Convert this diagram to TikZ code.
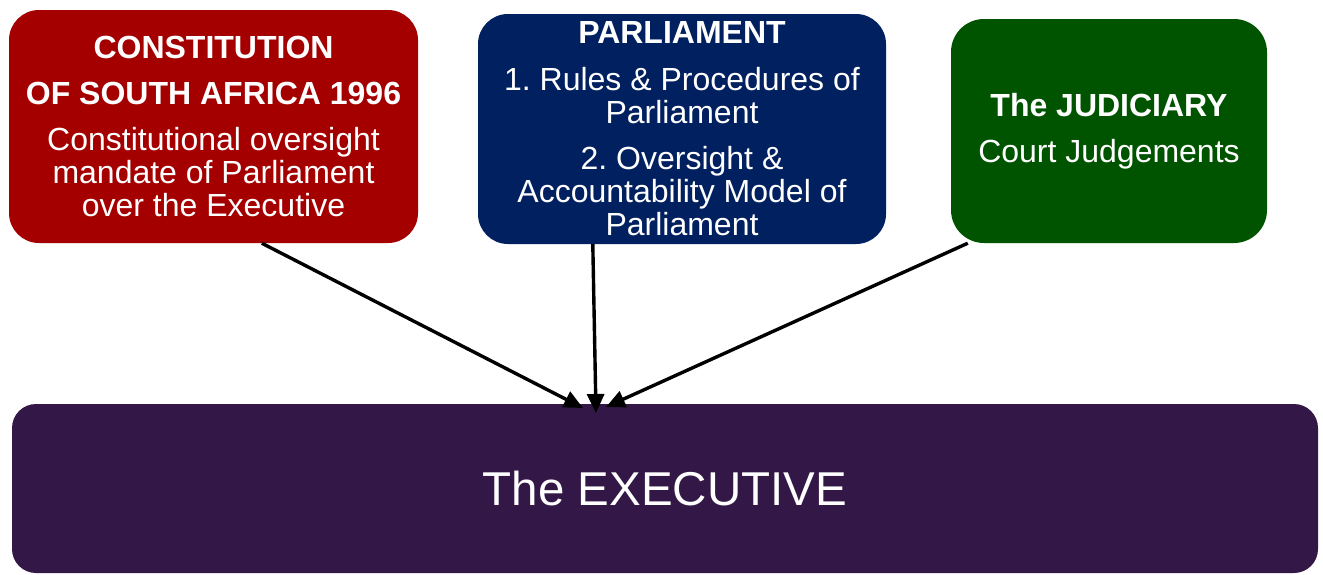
\documentclass[tikz,border=0pt]{standalone}
\usepackage{fontspec}
\setmainfont{Liberation Sans}
\usetikzlibrary{arrows.meta,calc}
\definecolor{conred}{RGB}{165,0,0}
\definecolor{parlblue}{RGB}{0,32,96}
\definecolor{judgreen}{RGB}{0,84,0}
\definecolor{execpurple}{RGB}{51,23,70}
\frenchspacing
\begin{document}
\begin{tikzpicture}[x=1pt,y=-1pt,
  box/.style={rounded corners=30pt, inner sep=0pt, text=white, align=center,
    font=\fontsize{32}{33}\selectfont},
  link/.style={line width=3.4pt, -{Triangle[length=19pt,width=17pt]}}]
\useasboundingbox (0,0) rectangle (1323,574);

% sources of oversight
\node[box, fill=conred, minimum width=409pt, minimum height=233pt] (con) at (213.5,126.5)
  {\textbf{CONSTITUTION}\\[13pt]\textbf{OF SOUTH AFRICA 1996}\\[13pt]
   Constitutional oversight\\ mandate of Parliament\\ over the Executive};
\node[box, fill=parlblue, minimum width=408pt, minimum height=230pt] (parl) at (682,129)
  {\textbf{PARLIAMENT}\\[14pt]1. Rules \& Procedures of\\ Parliament\\[13pt]
   2. Oversight \&\\ Accountability Model of\\ Parliament};
\node[box, fill=judgreen, rounded corners=33pt, minimum width=316pt, minimum height=224pt] (jud) at (1109,131)
  {\textbf{The JUDICIARY}\\[13pt]Court Judgements};

% the overseen body
\node[box, fill=execpurple, rounded corners=24pt, minimum width=1306pt, minimum height=169pt,
  font=\fontsize{47.5}{50}\selectfont] (exec) at (665,488.5) {The EXECUTIVE};

% arrow ends on the executive
\coordinate (tipL) at (583,408);
\coordinate (tipM) at (596,413);
\coordinate (tipR) at (606,407);

\draw[link] ([xshift=253pt]con.south west) -- (tipL);
\draw[link] ([xshift=115pt]parl.south west) -- (tipM);
\draw[link] ([xshift=17pt]jud.south west) -- (tipR);
\end{tikzpicture}
\end{document}
